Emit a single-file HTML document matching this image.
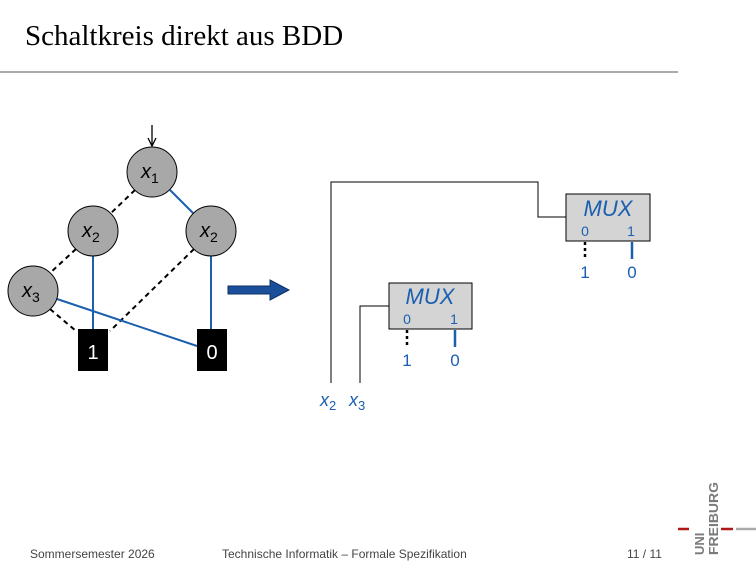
<!DOCTYPE html>
<html><head><meta charset="utf-8"><style>
body{margin:0;width:756px;height:567px;background:#fff;overflow:hidden;position:relative;font-family:"Liberation Sans",sans-serif}
.t{position:absolute;left:25px;top:20px;font:29px "Liberation Serif",serif;color:#000;white-space:nowrap}
.f{position:absolute;top:547px;font-size:12px;color:#444;white-space:nowrap}
</style></head><body>
<div class="t">Schaltkreis direkt aus BDD</div>
<div style="position:absolute;left:0;top:71px;width:678px;height:2px;background:#aaa"></div>
<svg width="756" height="567" style="position:absolute;left:0;top:0" font-family="Liberation Sans, sans-serif">
<line x1="152" y1="125" x2="152" y2="145" stroke="#000" stroke-width="1.3"/>
<path d="M148,138 L152,146 L156,138" fill="none" stroke="#000" stroke-width="1.3"/>
<g stroke-width="2" fill="none">
<line x1="135" y1="190" x2="110" y2="214" stroke="#000" stroke-dasharray="5,4"/>
<line x1="170" y1="190" x2="194" y2="214" stroke="#1a5fb0"/>
<line x1="76" y1="249" x2="50" y2="273" stroke="#000" stroke-dasharray="5,4"/>
<line x1="93" y1="256" x2="93" y2="330" stroke="#1a5fb0"/>
<line x1="194" y1="249" x2="110" y2="331" stroke="#000" stroke-dasharray="5,4"/>
<line x1="211" y1="256" x2="211" y2="330" stroke="#1a5fb0"/>
<line x1="50" y1="309" x2="76" y2="331" stroke="#000" stroke-dasharray="5,4"/>
<line x1="57" y1="299" x2="197" y2="346" stroke="#1a5fb0"/>
</g>
<g fill="#a8a8a8" stroke="#000" stroke-width="1">
<circle cx="152" cy="172" r="25"/><circle cx="93" cy="231" r="25"/><circle cx="211" cy="231" r="25"/><circle cx="33" cy="291" r="25"/>
</g>
<g font-style="italic" font-size="20" fill="#000">
<text x="141" y="178">x<tspan font-size="14" font-style="normal" dy="5">1</tspan></text>
<text x="82" y="237">x<tspan font-size="14" font-style="normal" dy="5">2</tspan></text>
<text x="200" y="237">x<tspan font-size="14" font-style="normal" dy="5">2</tspan></text>
<text x="22" y="297">x<tspan font-size="14" font-style="normal" dy="5">3</tspan></text>
</g>
<rect x="78" y="329" width="30" height="42" fill="#000"/>
<rect x="197" y="329" width="30" height="42" fill="#000"/>
<text x="93" y="359" font-size="20" fill="#fff" text-anchor="middle">1</text>
<text x="212" y="359" font-size="20" fill="#fff" text-anchor="middle">0</text>
<path d="M228,286 L270,286 L270,280 L289,290 L270,300 L270,294 L228,294 Z" fill="#1a4f9a" stroke="#0d2f66" stroke-width="1"/>
<g stroke="#000" stroke-width="1" fill="none">
<polyline points="331,383 331,182 538,182 538,217 566,217"/>
<polyline points="360,383 360,306 389,306"/>
</g>
<rect x="566" y="194" width="84" height="47" fill="#d4d4d4" stroke="#000"/>
<rect x="389" y="283" width="83" height="46" fill="#d4d4d4" stroke="#000"/>
<g fill="#1a5fb0">
<text x="608" y="216" font-size="22" font-style="italic" text-anchor="middle">MUX</text>
<text x="585" y="236" font-size="14" text-anchor="middle">0</text>
<text x="631" y="236" font-size="14" text-anchor="middle">1</text>
<text x="585" y="278" font-size="17" text-anchor="middle">1</text>
<text x="632" y="278" font-size="17" text-anchor="middle">0</text>
<text x="430" y="304" font-size="22" font-style="italic" text-anchor="middle">MUX</text>
<text x="407" y="324" font-size="14" text-anchor="middle">0</text>
<text x="454" y="324" font-size="14" text-anchor="middle">1</text>
<text x="407" y="366" font-size="17" text-anchor="middle">1</text>
<text x="455" y="366" font-size="17" text-anchor="middle">0</text>
<text x="320" y="406" font-size="18" font-style="italic">x<tspan font-size="13" font-style="normal" dy="4">2</tspan></text>
<text x="349" y="406" font-size="18" font-style="italic">x<tspan font-size="13" font-style="normal" dy="4">3</tspan></text>
</g>
<g stroke-width="2.5">
<line x1="585" y1="242" x2="585" y2="259" stroke="#000" stroke-dasharray="3,3"/>
<line x1="632" y1="242" x2="632" y2="259" stroke="#1a5fb0"/>
<line x1="407" y1="330" x2="407" y2="347" stroke="#000" stroke-dasharray="3,3"/>
<line x1="455" y1="330" x2="455" y2="347" stroke="#1a5fb0"/>
</g>
<g stroke-width="2.5">
<line x1="678" y1="529" x2="689" y2="529" stroke="#b01818"/>
<line x1="721" y1="529" x2="733" y2="529" stroke="#b01818"/>
<line x1="736" y1="529" x2="756" y2="529" stroke="#aaa"/>
</g>
<g fill="#7a7a7a" font-weight="bold" font-size="13">
<text transform="translate(704,555) rotate(-90)">UNI</text>
<text transform="translate(718,555) rotate(-90)" textLength="73" lengthAdjust="spacingAndGlyphs">FREIBURG</text>
</g>
</svg>
<div class="f" style="left:30px">Sommersemester 2026</div>
<div class="f" style="left:222px">Technische Informatik – Formale Spezifikation</div>
<div class="f" style="left:627px">11 / 11</div>
</body></html>
